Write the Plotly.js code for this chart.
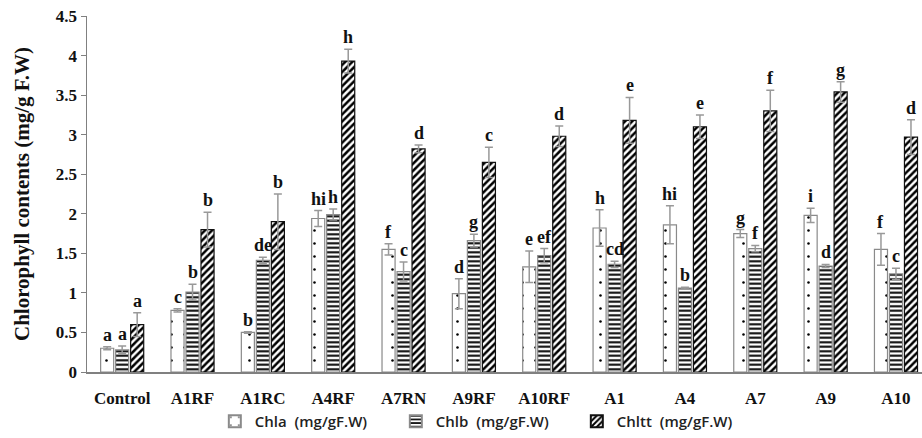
<!DOCTYPE html>
<html><head><meta charset="utf-8">
<script src="https://cdn.plot.ly/plotly-3.0.1.min.js"></script>
<style>html,body{margin:0;padding:0;background:#fff}#chart{width:922px;height:438px}</style>
</head><body><div id="chart"></div>
<script>
const categories = ['Control','A1RF','A1RC','A4RF','A7RN','A9RF','A10RF','A1','A4','A7','A9','A10'];
const chla = [0.30,0.78,0.50,1.94,1.55,0.99,1.33,1.82,1.86,1.75,1.98,1.55];
const chlaErr = [0.02,0.02,0.01,0.10,0.07,0.19,0.20,0.23,0.24,0.05,0.09,0.20];
const chlb = [0.28,1.01,1.41,1.99,1.27,1.66,1.47,1.36,1.06,1.56,1.34,1.24];
const chlbErr = [0.05,0.10,0.04,0.07,0.12,0.08,0.09,0.04,0.01,0.04,0.02,0.07];
const chltt = [0.60,1.80,1.90,3.93,2.82,2.65,2.98,3.18,3.10,3.30,3.54,2.97];
const chlttErr = [0.15,0.22,0.35,0.15,0.05,0.19,0.13,0.29,0.15,0.26,0.13,0.22];
const chlaLetters = ['a','c','b','hi','f','d','e','h','hi','g','i','f'];
const chlbLetters = ['a','b','de','h','c','g','ef','cd','b','f','d','c'];
const chlttLetters = ['a','b','b','h','d','c','d','e','e','f','g','d'];
const seriesNames = ['Chla\u00a0\u00a0(mg/gF.W)','Chlb\u00a0\u00a0(mg/gF.W)','Chltt\u00a0\u00a0(mg/gF.W)'];

const bargap = 0.36;
const errStyle = arr => ({type:'data', array:arr, visible:true, color:'#999', thickness:1.5, width:4});
const traces = [
  {type:'bar', name:seriesNames[0], x:categories, y:chla, error_y:errStyle(chlaErr),
   marker:{color:'white', line:{color:'#8a8a8a', width:1.2},
     pattern:{shape:'.', fgcolor:'#000', bgcolor:'white', size:13, solidity:0.03}}},
  {type:'bar', name:seriesNames[1], x:categories, y:chlb, error_y:errStyle(chlbErr),
   marker:{color:'white', line:{color:'#8a8a8a', width:1.2},
     pattern:{shape:'-', fgcolor:'#000', bgcolor:'white', size:4.5, solidity:0.45}}},
  {type:'bar', name:seriesNames[2], x:categories, y:chltt, error_y:errStyle(chlttErr),
   marker:{color:'white', line:{color:'#111', width:1.2},
     pattern:{shape:'/', fgcolor:'#000', bgcolor:'white', size:5, solidity:0.5}}}
];

const serif = "'Times New Roman', 'Liberation Serif', serif";
const slot = (1 - bargap) / 3;
const annotations = [];
[[chla,chlaErr,chlaLetters,-1],[chlb,chlbErr,chlbLetters,0],[chltt,chlttErr,chlttLetters,1]].forEach(([v,e,l,k]) => {
  v.forEach((val,i) => {
    annotations.push({x:i + k*slot, y:val + e[i], xref:'x', yref:'y', text:'<b>'+l[i]+'</b>',
      showarrow:false, yanchor:'bottom', yshift:0,
      font:{family:serif, size:18, color:'#111'}});
  });
});

const layout = {
  width:922, height:438,
  margin:{l:87, r:0, t:16, b:66, autoexpand:false},
  paper_bgcolor:'white', plot_bgcolor:'white',
  barmode:'group', bargap:bargap, bargroupgap:0.13,
  showlegend:true,
  legend:{orientation:'h', xref:'container', yref:'container', x:0.233, xanchor:'left', y:0, yanchor:'bottom',
    font:{family:"'Open Sans', 'Noto Sans', sans-serif", size:15, color:'#222', weight:600},
    tracegroupgap:0, itemsizing:'constant', entrywidth:136, entrywidthmode:'pixels'},
  xaxis:{type:'category', range:[-0.5, 11.37], showline:true, linecolor:'#808080', linewidth:1.5,
    ticks:'', ticklabelstandoff:10, showgrid:false, zeroline:false, automargin:false,
    tickfont:{family:serif, size:17, color:'#111', weight:'bold'}},
  yaxis:{range:[0,4.5], dtick:0.5, showline:true, linecolor:'#808080', linewidth:1.5,
    ticks:'outside', ticklen:5, tickcolor:'#808080', showgrid:false, zeroline:false, automargin:false,
    tickfont:{family:serif, size:17, color:'#111', weight:'bold'},
    title:{text:'<b>Chlorophyll contents (mg/g F.W)</b>', standoff:20,
      font:{family:serif, size:21, color:'#111'}}},
  annotations:annotations
};
Plotly.newPlot('chart', traces, layout, {displayModeBar:false, staticPlot:true});
</script></body></html>
